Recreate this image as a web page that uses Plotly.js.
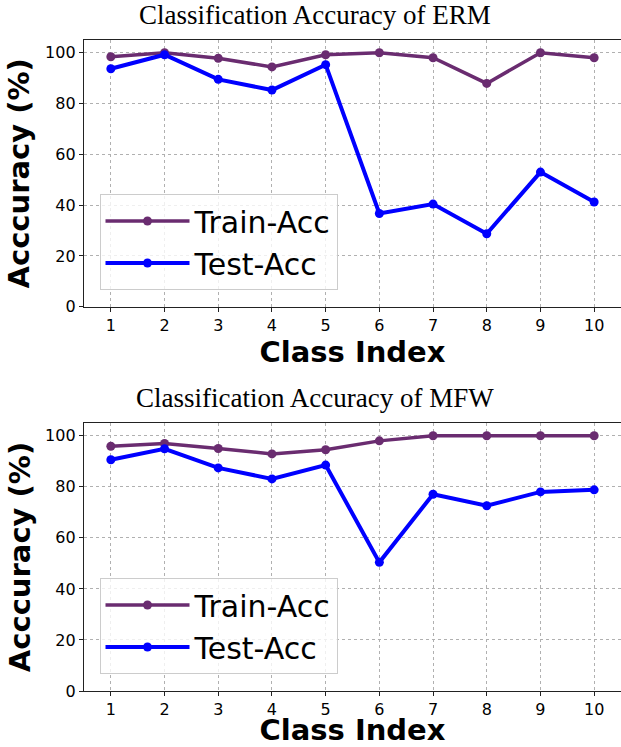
<!DOCTYPE html>
<html>
<head>
<meta charset="utf-8">
<script src="https://cdn.plot.ly/plotly-3.0.1.min.js"></script>
<style>html,body{margin:0;padding:0;background:#fff;}#chart{width:621px;height:747px;}</style>
</head>
<body>
<div id="chart"></div>
<script>
const classIndex = [1, 2, 3, 4, 5, 6, 7, 8, 9, 10];
const ermTrainAcc = [98.4, 100, 97.8, 94.4, 99.2, 100, 98.0, 87.9, 100, 98.0];
const ermTestAcc  = [93.7, 99.2, 89.5, 85.3, 95.3, 36.7, 40.4, 28.7, 53.0, 41.2];
const mfwTrainAcc = [95.9, 97.0, 95.0, 92.9, 94.5, 98.0, 100, 100, 100, 100];
const mfwTestAcc  = [90.6, 94.9, 87.4, 83.1, 88.5, 50.4, 77.1, 72.6, 78.0, 78.8];
const seriesNames = ['Train-Acc', 'Test-Acc'];
const chartTitles = ['Classification Accuracy of ERM', 'Classification Accuracy of MFW'];
const xTitle = 'Class Index';
const yTitle = 'Acccuracy (%)';

const trainColor = '#6a2c70';
const testColor = '#0000ff';
const sans = 'DejaVu Sans, sans-serif';

function mk(y, name, color, width, xa, ya, leg) {
  return {x: classIndex, y: y, name: name, type: 'scatter', mode: 'lines+markers',
    line: {color: color, width: width}, marker: {color: color, size: 9},
    xaxis: xa, yaxis: ya, legend: leg};
}
const traces = [
  mk(ermTrainAcc, seriesNames[0], trainColor, 3.5, 'x', 'y', 'legend'),
  mk(ermTestAcc, seriesNames[1], testColor, 4, 'x', 'y', 'legend'),
  mk(mfwTrainAcc, seriesNames[0], trainColor, 3.5, 'x2', 'y2', 'legend2'),
  mk(mfwTestAcc, seriesNames[1], testColor, 4, 'x2', 'y2', 'legend2')
];

function xax(anchor) {
  return {domain: [84/621, 1], anchor: anchor, range: [0.5, 10.5], tickvals: classIndex,
    showline: true, linecolor: '#222', linewidth: 1.2, mirror: true,
    ticks: 'outside', ticklen: 4, tickcolor: '#222',
    showgrid: true, gridcolor: '#b0b0b0', griddash: 'dot', gridwidth: 1, zeroline: false,
    tickfont: {family: sans, size: 16, color: '#000'},
    title: {text: xTitle, font: {family: sans, size: 29, color: '#000', weight: 'bold'}, standoff: 5}};
}
function yax(anchor, dom) {
  return {domain: dom, anchor: anchor, range: [0, 105], tickvals: [0, 20, 40, 60, 80, 100],
    showline: true, linecolor: '#222', linewidth: 1.2, mirror: false,
    ticks: 'outside', ticklen: 4, tickcolor: '#222',
    showgrid: true, gridcolor: '#b0b0b0', griddash: 'dot', gridwidth: 1, zeroline: false,
    tickfont: {family: sans, size: 16, color: '#000'},
    title: {text: yTitle, font: {family: sans, size: 29, color: '#000', weight: 'bold'}, standoff: 6}};
}
function leg(ytop) {
  return {x: 99.5/621, y: ytop, xanchor: 'left', yanchor: 'top',
    bgcolor: 'rgba(255,255,255,0.8)', bordercolor: '#cccccc', borderwidth: 1,
    font: {family: sans, size: 30, color: '#000'}, itemwidth: 84, tracegroupgap: 0};
}

const layout = {
  width: 621, height: 747,
  margin: {l: 0, r: 0, t: 0, b: 0},
  paper_bgcolor: '#fff', plot_bgcolor: '#fff',
  showlegend: true,
  xaxis: xax('y'),
  yaxis: yax('x', [1 - 306.7/747, 1 - 40/747]),
  xaxis2: xax('y2'),
  yaxis2: yax('x2', [1 - 691/747, 1 - 423/747]),
  legend: leg(1 - 194/747),
  legend2: leg(1 - 578/747),
  annotations: [
    {text: chartTitles[0], xref: 'paper', yref: 'paper', x: 315/621, y: 1 - 15/747,
     xanchor: 'center', yanchor: 'middle', showarrow: false,
     font: {family: 'Liberation Serif, Times New Roman, serif', size: 27, color: '#000'}},
    {text: chartTitles[1], xref: 'paper', yref: 'paper', x: 315/621, y: 1 - 398/747,
     xanchor: 'center', yanchor: 'middle', showarrow: false,
     font: {family: 'Liberation Serif, Times New Roman, serif', size: 27, color: '#000'}}
  ]
};

Plotly.newPlot('chart', traces, layout, {displayModeBar: false, staticPlot: true});
</script>
</body>
</html>
